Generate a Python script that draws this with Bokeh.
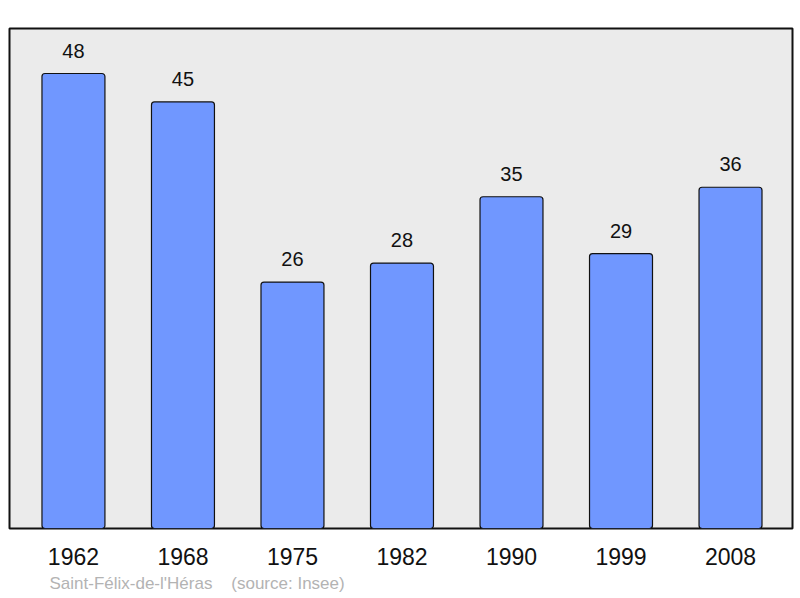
from bokeh.plotting import figure
from bokeh.models import Range1d, ColumnDataSource, Title, FixedTicker
from bokeh.core.properties import value
from bokeh.embed import file_html
from bokeh.resources import INLINE

years = ["1962", "1968", "1975", "1982", "1990", "1999", "2008"]
population = [48, 45, 26, 28, 35, 29, 36]
place = "Saint-Félix-de-l'Héras"
source = "(source: Insee)"

W, H = 800, 598
FL, FR, FT, FB = 9, 8, 28, 70
x0, x1 = -0.584, 6.566
y0, y1 = 0, 52.75

idx = list(range(len(years)))
src = ColumnDataSource(dict(x=idx, top=population, lab=[str(v) for v in population]))

p = figure(width=W, height=H, output_backend="svg", toolbar_location=None,
           x_range=Range1d(x0, x1), y_range=Range1d(y0, y1),
           min_border_left=FL, min_border_right=FR, min_border_top=FT, min_border_bottom=FB)
p.background_fill_color = "#ebebeb"
p.border_fill_color = "white"
p.outline_line_color = "#111111"
p.outline_line_width = 2
p.grid.visible = False
p.yaxis.visible = False

p.xaxis.ticker = FixedTicker(ticks=idx)
p.xaxis.major_label_overrides = {i: y for i, y in enumerate(years)}
p.xaxis.axis_line_color = None
p.xaxis.major_tick_line_color = None
p.xaxis.minor_tick_line_color = None
p.xaxis.major_label_standoff = 13
p.xaxis.major_label_text_font = "Liberation Sans"
p.xaxis.major_label_text_font_size = "23px"
p.xaxis.major_label_text_color = "#111111"

p.vbar(x="x", top="top", width=0.575, bottom=0, source=src,
       fill_color="#7097ff", line_color="#111111", line_width=1.2, border_radius=3)

p.text(x="x", y="top", text="lab", source=src, y_offset=-23,
       text_align="center", text_baseline="alphabetic",
       text_font=value("Liberation Sans"), text_font_size="20px", text_color="#111111")

gap = "\u00a0" * 4
p.add_layout(Title(text=place + gap + source, align="left", offset=40, standoff=8,
                   text_font="Liberation Sans", text_font_size="17px",
                   text_font_style="normal", text_color="#b3b3b3"), "below")

open("out.html", "w").write(file_html(p, INLINE))
